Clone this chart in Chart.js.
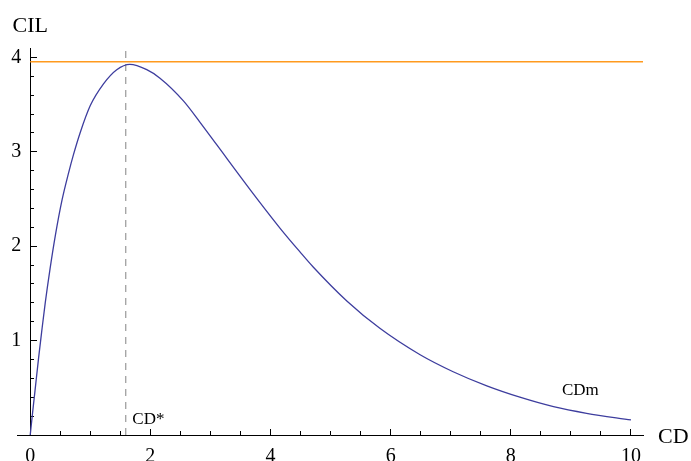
<!DOCTYPE html>
<html>
<head>
<meta charset="utf-8">
<script src="https://cdn.jsdelivr.net/npm/chart.js@4/dist/chart.umd.min.js"></script>
<style>
  html, body { margin: 0; padding: 0; background: #ffffff; }
  #c { display: block; }
</style>
</head>
<body>
<canvas id="c" width="691" height="461"></canvas>
<script>
// ---- data ----
const cdValues  = [0, 0.04, 0.08, 0.14, 0.19, 0.25, 0.33, 0.42, 0.53, 0.64, 0.72, 0.83, 1.0, 1.22, 1.44, 1.66, 1.94, 2.16, 2.55, 2.83, 3.11, 3.66, 4.16, 4.49, 4.71, 5.27, 5.82, 6.49, 7.04, 7.60, 8.15, 8.71, 9.26, 10.0];
const cilValues = [0, 0.24, 0.47, 0.82, 1.09, 1.40, 1.76, 2.12, 2.49, 2.78, 2.97, 3.20, 3.49, 3.72, 3.87, 3.927, 3.87, 3.78, 3.54, 3.31, 3.07, 2.60, 2.19, 1.94, 1.78, 1.42, 1.13, 0.85, 0.67, 0.52, 0.40, 0.30, 0.23, 0.16];
const maxCIL = 3.955;           // orange horizontal line
const cdStar = 1.59;            // dashed vertical line
const xRange = [-0.22, 10.2];
const yRange = [0, 4.1];
const xMajorStep = 2, xMinorStep = 0.5;
const yMajorStep = 1, yMinorStep = 0.2;
const annotations = [
  { text: 'CD*', x: 1.70, y: 0.117 },
  { text: 'CDm', x: 8.85, y: 0.42 }
];
const xTitle = 'CD', yTitle = 'CIL';

const serif = "'Liberation Serif', 'Times New Roman', 'DejaVu Serif', serif";

const curve = cdValues.map((x, i) => ({ x: x, y: cilValues[i] }));
const orange = [{ x: 0, y: maxCIL }, { x: xRange[1], y: maxCIL }];
const dashed = [{ x: cdStar, y: yRange[0] }, { x: cdStar, y: yRange[1] }];

const textPlugin = {
  id: 'texts',
  afterDraw(chart) {
    const ctx = chart.ctx;
    const xs = chart.scales.x, ys = chart.scales.y;
    ctx.save();
    ctx.fillStyle = '#000';
    ctx.textBaseline = 'alphabetic';
    // axis titles
    ctx.font = '22px ' + serif;
    ctx.textAlign = 'center';
    ctx.fillText(yTitle, xs.getPixelForValue(0), chart.chartArea.top - 16);
    ctx.textAlign = 'left';
    ctx.fillText(xTitle, xs.getPixelForValue(xRange[1]) + 15, ys.getPixelForValue(0) + 8);
    // annotations
    ctx.font = '17px ' + serif;
    annotations.forEach(a => {
      ctx.fillText(a.text, xs.getPixelForValue(a.x), ys.getPixelForValue(a.y));
    });
    ctx.restore();
  }
};

function axisCommon(min, max) {
  return { type: 'linear', min: min, max: max };
}

new Chart(document.getElementById('c'), {
  type: 'scatter',
  data: {
    datasets: [
      { data: curve, showLine: true, borderColor: '#3d3d9e', borderWidth: 1.3, pointRadius: 0, cubicInterpolationMode: 'monotone', order: 1 },
      { data: orange, showLine: true, borderColor: '#ff9a1e', borderWidth: 1.6, pointRadius: 0, order: 2 },
      { data: dashed, showLine: true, borderColor: '#999999', borderWidth: 1.2, borderDash: [7, 6], pointRadius: 0, order: 3 }
    ]
  },
  options: {
    responsive: false,
    devicePixelRatio: 1,
    animation: false,
    layout: { padding: { left: 17, right: 48, top: 48, bottom: 26 } },
    plugins: { legend: { display: false }, tooltip: { enabled: false } },
    scales: {
      x: Object.assign(axisCommon(xRange[0], xRange[1]), {
        position: { y: 0 },
        border: { display: true, color: '#000', width: 1 },
        grid: { display: true, drawOnChartArea: false, drawTicks: true, tickLength: -7, color: '#000', tickColor: '#000' },
        ticks: { stepSize: xMajorStep, includeBounds: false, padding: 17, color: '#000', font: { family: serif, size: 20 },
                 callback: v => String(v) }
      }),
      x2: Object.assign(axisCommon(xRange[0], xRange[1]), {
        position: { y: 0 },
        border: { display: false },
        grid: { display: true, drawOnChartArea: false, drawTicks: true, tickLength: -4, color: '#000', tickColor: '#000' },
        ticks: { stepSize: xMinorStep, includeBounds: false, padding: 0, font: { size: 1 }, callback: () => '' }
      }),
      y: Object.assign(axisCommon(yRange[0], yRange[1]), {
        position: { x: 0 },
        border: { display: true, color: '#000', width: 1 },
        grid: { display: true, drawOnChartArea: false, drawTicks: true, tickLength: -7, color: '#000', tickColor: '#000' },
        ticks: { stepSize: yMajorStep, includeBounds: false, padding: 0, color: '#000', font: { family: serif, size: 20 },
                 // label sits 7px left of the axis line (thin spaces as the gap)
                 callback: v => (v === 0 ? '' : String(v) + '\u2005\u2009') }
      }),
      y2: Object.assign(axisCommon(yRange[0], yRange[1]), {
        position: { x: 0 },
        border: { display: false },
        grid: { display: true, drawOnChartArea: false, drawTicks: true, tickLength: -4, color: '#000', tickColor: '#000' },
        ticks: { stepSize: yMinorStep, includeBounds: false, padding: 0, font: { size: 1 }, callback: () => '' }
      })
    }
  },
  plugins: [textPlugin]
});
</script>
</body>
</html>
